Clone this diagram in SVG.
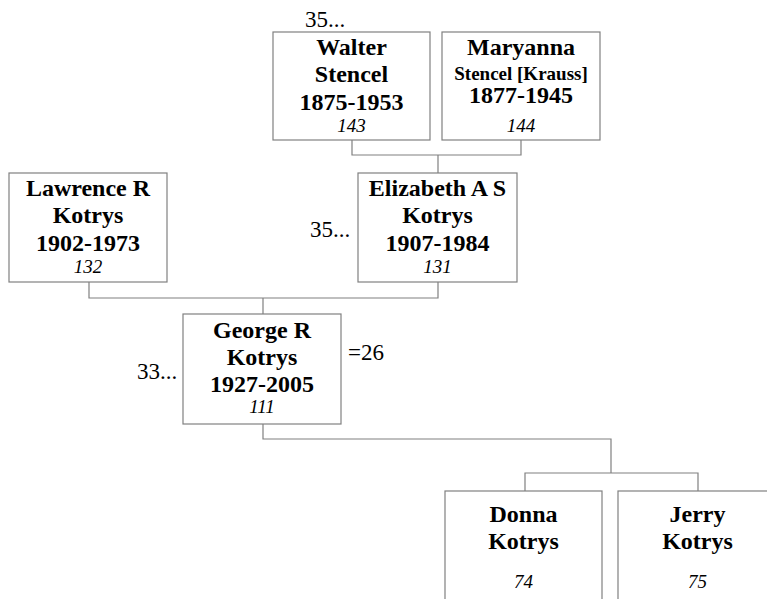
<svg xmlns="http://www.w3.org/2000/svg" width="767" height="599" viewBox="0 0 767 599">
<style>
.box{fill:#fff;stroke:#808080;stroke-width:1.2}
.ln{fill:none;stroke:#808080;stroke-width:1.2}
text{font-family:"Liberation Serif","Times New Roman",serif;fill:#000;text-anchor:middle}
.n{font-size:24px;font-weight:bold}
.s{font-size:19px;font-weight:bold}
.i{font-size:19px;font-style:italic}
.o{font-size:23px;text-anchor:start}
</style>
<rect width="767" height="599" fill="#fff"/>
<g id="connectors">
<path class="ln" d="M352,140V155H521V140M438,155V173"/>
<path class="ln" d="M89,282V298H438V282M263,298V314"/>
<path class="ln" d="M263,424V439H611V473M525,491V473H698V491"/>
</g>
<g id="walter">
<rect class="box" x="273" y="32" width="157" height="108"/>
<text class="n" x="351.5" y="55">Walter</text>
<text class="n" x="351.5" y="82">Stencel</text>
<text class="n" x="351.5" y="110">1875-1953</text>
<text class="i" x="351.5" y="132">143</text>
<text class="o" x="305" y="27">35...</text>
</g>
<g id="maryanna">
<rect class="box" x="442" y="32" width="158" height="108"/>
<text class="n" x="521" y="55">Maryanna</text>
<text class="s" x="521" y="80">Stencel [Krauss]</text>
<text class="n" x="521" y="103">1877-1945</text>
<text class="i" x="521" y="132">144</text>
</g>
<g id="lawrence">
<rect class="box" x="9" y="173" width="158" height="109"/>
<text class="n" x="88" y="196">Lawrence R</text>
<text class="n" x="88" y="223">Kotrys</text>
<text class="n" x="88" y="251">1902-1973</text>
<text class="i" x="88" y="273">132</text>
</g>
<g id="elizabeth">
<rect class="box" x="358" y="173" width="159" height="109"/>
<text class="n" x="437.5" y="196">Elizabeth A S</text>
<text class="n" x="437.5" y="223">Kotrys</text>
<text class="n" x="437.5" y="251">1907-1984</text>
<text class="i" x="437.5" y="273">131</text>
<text class="o" x="310" y="237">35...</text>
</g>
<g id="george">
<rect class="box" x="183" y="314" width="158" height="110"/>
<text class="n" x="262" y="338">George R</text>
<text class="n" x="262" y="365">Kotrys</text>
<text class="n" x="262" y="392">1927-2005</text>
<text class="i" x="262" y="413">111</text>
<text class="o" x="137" y="379">33...</text>
<text class="o" x="348" y="360">=26</text>
</g>
<g id="donna">
<rect class="box" x="445" y="491" width="157" height="120"/>
<text class="n" x="523.5" y="522">Donna</text>
<text class="n" x="523.5" y="549">Kotrys</text>
<text class="i" x="523.5" y="588">74</text>
</g>
<g id="jerry">
<rect class="box" x="618" y="491" width="159" height="120"/>
<text class="n" x="697.5" y="522">Jerry</text>
<text class="n" x="697.5" y="549">Kotrys</text>
<text class="i" x="697.5" y="588">75</text>
</g>
</svg>
